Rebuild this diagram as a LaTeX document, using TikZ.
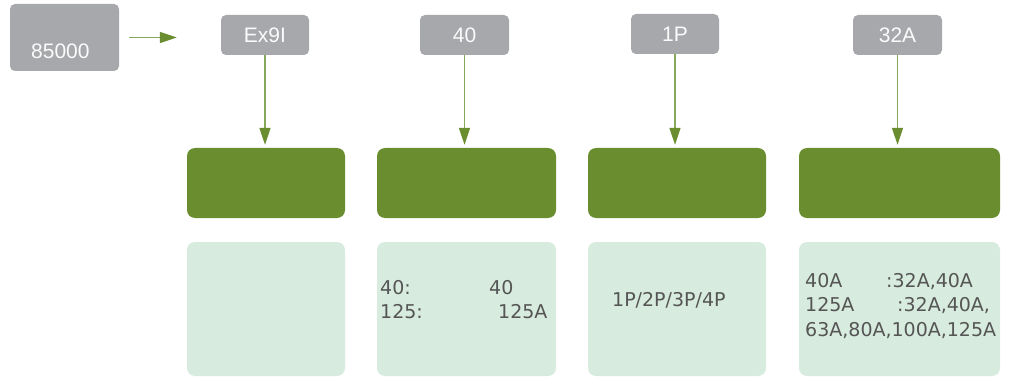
\documentclass[tikz,border=0pt]{standalone}
\usepackage{fontspec}
\setmainfont{DejaVu Sans}
\newfontfamily\tagfont{Liberation Sans}
\usetikzlibrary{arrows.meta}
\definecolor{boxgrey}{HTML}{A7A8AB}
\definecolor{deepgreen}{HTML}{6A8E2F}
\definecolor{palegreen}{HTML}{D7EBDE}
\definecolor{txtgrey}{HTML}{555555}
\definecolor{linegreen}{HTML}{86A85A}
\begin{document}
\begin{tikzpicture}[x=1pt,y=-1pt,
  tagbox/.style={fill=boxgrey, rounded corners=5pt, inner sep=0pt, minimum height=40pt,
    text=white!95!boxgrey, font=\tagfont\fontsize{21}{23}\selectfont},
  headbox/.style={fill=deepgreen, rounded corners=8pt, inner sep=0pt, minimum height=70pt},
  bodybox/.style={fill=palegreen, rounded corners=8pt, inner sep=0pt, minimum height=134pt},
  bodytext/.style={anchor=base west, inner sep=0pt, text=txtgrey, font=\fontsize{19}{21}\selectfont},
  flow/.style={draw=linegreen, line width=1.3pt, -{Triangle[length=17pt,width=11pt,color=deepgreen]}}
]
\useasboundingbox (0,0) rectangle (1009,377);
% source box
\node[tagbox, minimum width=109pt, minimum height=67pt] (n0) at (64.5,37.5) {};
\node[anchor=base west, inner sep=0pt, text=white!95!boxgrey, font=\tagfont\fontsize{21}{23}\selectfont] (n0t) at (31,59) {85000};
% tag boxes
\node[tagbox, minimum width=88pt] (t1) at (265,35) {Ex9I};
\node[tagbox, minimum width=89pt] (t2) at (464.5,35) {40};
\node[tagbox, minimum width=88pt] (t3) at (675,34) {1P};
\node[tagbox, minimum width=89pt] (t4) at (897.5,35) {32A};
% green header boxes
\node[headbox, minimum width=158pt] (g1) at (266,183) {};
\node[headbox, minimum width=179pt] (g2) at (466.5,183) {};
\node[headbox, minimum width=178pt] (g3) at (677,183) {};
\node[headbox, minimum width=201pt] (g4) at (899.5,183) {};
% pale body boxes
\node[bodybox, minimum width=158pt] (b1) at (266,309) {};
\node[bodybox, minimum width=179pt] (b2) at (466.5,309) {};
\node[bodybox, minimum width=178pt] (b3) at (677,309) {};
\node[bodybox, minimum width=201pt] (b4) at (899.5,309) {};
% body texts
\node[bodytext] (x21) at (380,294) {40:};
\node[bodytext] (x22) at (489,294) {40};
\node[bodytext] (x23) at (380,318) {125:};
\node[bodytext] (x24) at (498,318) {125A};
\node[bodytext] (x31) at (612,306) {1P/2P/3P/4P};
\node[bodytext] (x41) at (805,287) {40A};
\node[bodytext] (x42) at (886,287) {:32A,40A};
\node[bodytext] (x43) at (805,311.5) {125A};
\node[bodytext] (x44) at (897,311.5) {:32A,40A,};
\node[bodytext] (x45) at (805,336) {63A,80A,100A,125A};
% connectors
\draw[flow, shorten <=10pt, shorten >=44pt] (n0.east) -- (n0.east -| t1.west);
\draw[flow, shorten >=3pt] (t1.south) -- (t1.south |- g1.north);
\draw[flow, shorten >=3pt] (t2.south) -- (t2.south |- g2.north);
\draw[flow, shorten >=3pt] (t3.south) -- (t3.south |- g3.north);
\draw[flow, shorten >=3pt] (t4.south) -- (t4.south |- g4.north);
\end{tikzpicture}
\end{document}
